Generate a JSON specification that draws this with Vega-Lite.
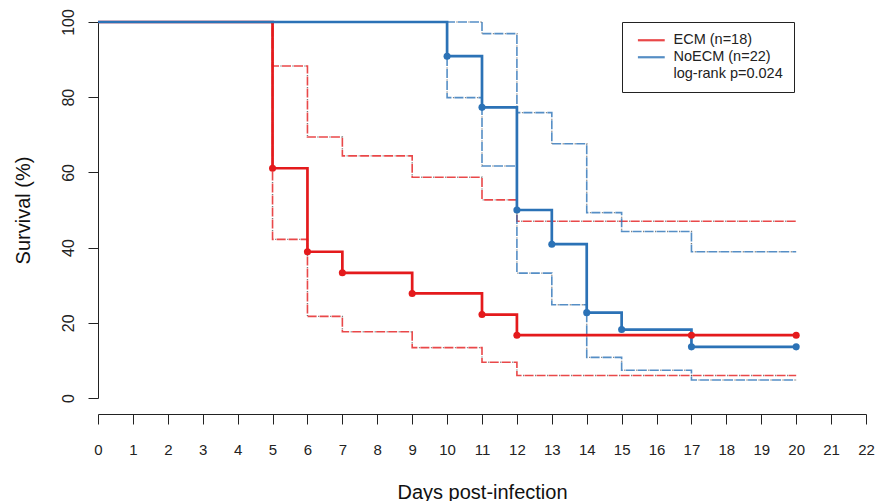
{
  "$schema": "https://vega.github.io/schema/vega-lite/v6.json",
  "width": 768,
  "height": 376,
  "autosize": {"type": "none"},
  "padding": {"left": 98, "top": 22, "right": 10, "bottom": 103},
  "background": "white",
  "config": {
    "view": {"stroke": null},
    "font": "Liberation Sans",
    "axisX": {
      "grid": false, "domainColor": "#222", "tickColor": "#222", "tickSize": 10, "offset": 16,
      "labelFontSize": 15, "labelColor": "#222", "labelPadding": 18, "labelFlush": false,
      "titleFontSize": 20, "titleFontWeight": "normal", "titleColor": "#111", "titlePadding": 25
    },
    "axisY": {
      "grid": false, "domainColor": "#222", "tickColor": "#222", "tickSize": 10,
      "labelFontSize": 16, "labelColor": "#222", "labelAngle": 270, "labelPadding": 12,
      "labelAlign": "center", "labelBaseline": "bottom",
      "titleFontSize": 20, "titleFontWeight": "normal", "titleColor": "#111", "titlePadding": 27
    }
  },
  "data": {
    "values": [
      {"group": "ECM (n=18)", "day": 0, "surv": 100, "lo": 100, "hi": 100},
      {"group": "ECM (n=18)", "day": 5, "surv": 61.1, "lo": 42.2, "hi": 88.3},
      {"group": "ECM (n=18)", "day": 6, "surv": 38.9, "lo": 21.7, "hi": 69.4},
      {"group": "ECM (n=18)", "day": 7, "surv": 33.3, "lo": 17.6, "hi": 64.4},
      {"group": "ECM (n=18)", "day": 9, "surv": 27.8, "lo": 13.4, "hi": 58.7},
      {"group": "ECM (n=18)", "day": 11, "surv": 22.2, "lo": 9.5, "hi": 52.7},
      {"group": "ECM (n=18)", "day": 12, "surv": 16.7, "lo": 6.0, "hi": 47.0},
      {"group": "ECM (n=18)", "day": 17, "surv": 16.7, "lo": 6.0, "hi": 47.0},
      {"group": "ECM (n=18)", "day": 20, "surv": 16.7, "lo": 6.0, "hi": 47.0},
      {"group": "NoECM (n=22)", "day": 0, "surv": 100, "lo": 100, "hi": 100},
      {"group": "NoECM (n=22)", "day": 10, "surv": 90.9, "lo": 79.9, "hi": 100},
      {"group": "NoECM (n=22)", "day": 11, "surv": 77.3, "lo": 61.7, "hi": 96.9},
      {"group": "NoECM (n=22)", "day": 12, "surv": 50.0, "lo": 33.2, "hi": 75.9},
      {"group": "NoECM (n=22)", "day": 13, "surv": 40.9, "lo": 24.8, "hi": 67.6},
      {"group": "NoECM (n=22)", "day": 14, "surv": 22.7, "lo": 10.8, "hi": 49.3},
      {"group": "NoECM (n=22)", "day": 15, "surv": 18.2, "lo": 7.4, "hi": 44.3},
      {"group": "NoECM (n=22)", "day": 17, "surv": 13.6, "lo": 4.8, "hi": 38.9},
      {"group": "NoECM (n=22)", "day": 20, "surv": 13.6, "lo": 4.8, "hi": 38.9}
    ]
  },
  "encoding": {
    "x": {
      "field": "day", "type": "quantitative",
      "scale": {"domain": [0, 22], "nice": false, "zero": false},
      "axis": {"values": [0,1,2,3,4,5,6,7,8,9,10,11,12,13,14,15,16,17,18,19,20,21,22], "title": "Days post-infection"}
    }
  },
  "layer": [
    {
      "transform": [{"fold": ["lo", "hi"], "as": ["bound", "v"]}],
      "mark": {"type": "line", "interpolate": "step-after", "strokeWidth": 1.6, "strokeDash": [9, 3], "opacity": 0.8},
      "encoding": {
        "y": {"field": "v", "type": "quantitative", "scale": {"domain": [0, 100], "nice": false}, "axis": {"values": [0,20,40,60,80,100]}, "title": "Survival (%)"},
        "color": {"field": "group", "type": "nominal", "scale": {"domain": ["ECM (n=18)", "NoECM (n=22)", "log-rank p=0.024"], "range": ["#e41a1c", "#2b72b6", "rgba(0,0,0,0)"]}},
        "detail": {"field": "bound"}
      }
    },
    {
      "transform": [{"fold": ["lo", "hi"], "as": ["bound", "v"]}],
      "mark": {"type": "line", "interpolate": "step-after", "strokeWidth": 1.4, "strokeDash": [1, 11], "strokeDashOffset": 1.5, "color": "#444", "opacity": 0.7},
      "encoding": {
        "y": {"field": "v", "type": "quantitative", "title": "Survival (%)"},
        "detail": [{"field": "group"}, {"field": "bound"}]
      }
    },
    {
      "mark": {"type": "line", "interpolate": "step-after", "strokeWidth": 2.7},
      "encoding": {
        "y": {"field": "surv", "type": "quantitative", "title": "Survival (%)"},
        "color": {
          "field": "group", "type": "nominal",
          "legend": {
            "title": null, "orient": "none", "legendX": 524, "legendY": 0,
            "strokeColor": "#222", "fillColor": "white", "padding": 11,
            "symbolType": "M-0.7,0H7.3", "symbolSize": 45, "symbolStrokeWidth": 2.2, "symbolOpacity": 1,
            "labelFontSize": 14.5, "labelColor": "#222", "labelOffset": 26, "rowPadding": 2
          }
        }
      }
    },
    {
      "transform": [{"filter": "datum.day > 0"}],
      "mark": {"type": "point", "filled": true, "size": 50, "opacity": 1},
      "encoding": {
        "y": {"field": "surv", "type": "quantitative", "title": "Survival (%)"},
        "color": {"field": "group", "type": "nominal"}
      }
    }
  ]
}
